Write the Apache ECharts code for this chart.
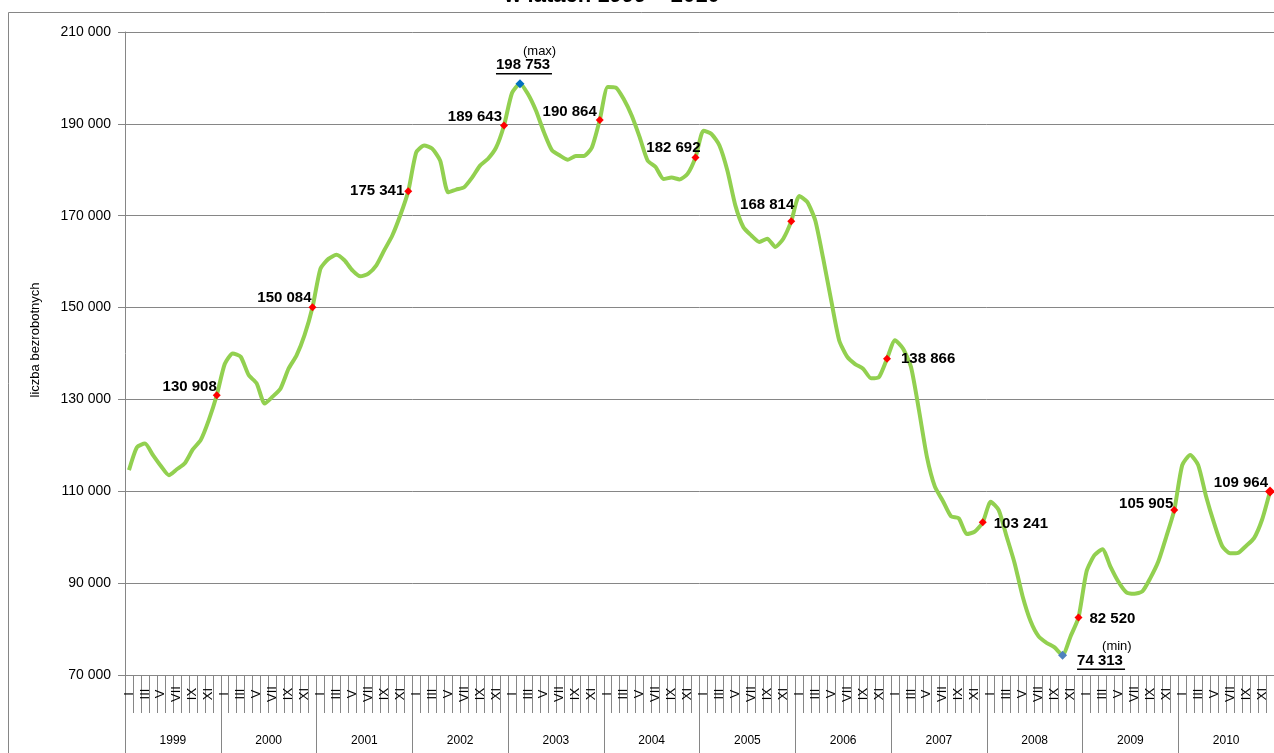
<!DOCTYPE html>
<html>
<head>
<meta charset="utf-8">
<script src="https://cdn.jsdelivr.net/npm/echarts@6/dist/echarts.min.js"></script>
<style>
  html, body { margin: 0; padding: 0; background: #fff; }
  #chart { width: 1274px; height: 753px; }
</style>
</head>
<body>
<div id="chart"></div>
<script>
// lata i miesiace na osi X
var years = ['1999', '2000', '2001', '2002', '2003', '2004', '2005', '2006', '2007', '2008', '2009', '2010'];
var monthNames = ['I', 'II', 'III', 'IV', 'V', 'VI', 'VII', 'VIII', 'IX', 'X', 'XI', 'XII'];

// liczba bezrobotnych, stan na koniec miesiaca
var y1999 = [114600, 119600, 120400, 117900, 115500, 113500, 114800, 116100, 119100, 121200, 125500, 130908];
var y2000 = [137700, 140000, 139300, 135300, 133500, 129100, 130600, 132400, 136700, 139600, 144000, 150084];
var y2001 = [158500, 160600, 161500, 160300, 158100, 156800, 157400, 159200, 162500, 165700, 170100, 175341];
var y2002 = [183800, 185300, 184600, 182000, 175100, 175700, 176200, 178300, 180900, 182400, 184800, 189643];
var y2003 = [196700, 198753, 196500, 192900, 188200, 184300, 183100, 182200, 183000, 183000, 184800, 190864];
var y2004 = [198000, 197900, 195400, 191800, 187100, 182000, 180600, 178000, 178300, 177900, 179100, 182692];
var y2005 = [188500, 187800, 185300, 179800, 172200, 167500, 165700, 164300, 165000, 163200, 165000, 168814];
var y2006 = [174300, 173000, 169000, 160700, 151600, 142900, 139300, 137700, 136700, 134600, 134900, 138866];
var y2007 = [142900, 141100, 137100, 127700, 117500, 111000, 107900, 104600, 104100, 100700, 101200, 103241];
var y2008 = [107700, 105900, 100100, 94300, 87100, 81700, 78400, 77000, 76000, 74313, 78400, 82520];
var y2009 = [92500, 96100, 97400, 93600, 90300, 88000, 87700, 88200, 91100, 94700, 100100, 105905];
var y2010 = [115700, 117900, 115700, 108800, 103000, 98100, 96500, 96600, 98100, 99800, 103800, 109964];

// os Y
var yMin = 70000;
var yMax = 210000;
var yStep = 20000;

var values = [].concat(y1999, y2000, y2001, y2002, y2003, y2004, y2005, y2006, y2007, y2008, y2009, y2010);
var months = [];
years.forEach(function () { months = months.concat(monthNames); });

var maxIdx = values.indexOf(Math.max.apply(null, values));
var minIdx = values.indexOf(Math.min.apply(null, values));

function fmt(v) {
  return String(Math.round(v)).replace(/\B(?=(\d{3})+(?!\d))/g, ' ');
}

// polozenie etykiet grudniowych: [strona, dx, dy]
var decLabelPos = [
  ['left', 4, -8], ['left', 3, -9], ['left', 0, 0], ['left', 2, -9],
  ['left', 1, -8], ['left', 9, -10], ['left', 7, -16], ['right', 10, 0],
  ['right', 7, 2], ['right', 7, 1], ['left', 3, -6], ['left', 3, -9]
];

var seriesData = values.map(function (v, i) {
  var item = { value: v };
  if (i === maxIdx) {
    item.symbol = 'diamond';
    item.symbolSize = 9;
    item.itemStyle = { color: '#0070C0' };
    item.label = {
      show: true, position: 'top', distance: 4, offset: [-24, 0], align: 'left',
      formatter: '{m|(max)}\n{v|' + fmt(v) + '}\n{u| }',
      rich: {
        m: { fontSize: 13, color: '#000', lineHeight: 14, padding: [0, 0, 0, 27] },
        v: { fontSize: 15, fontWeight: 'bold', color: '#000', lineHeight: 14 },
        u: { fontSize: 1, lineHeight: 3, height: 1.5, width: 56, backgroundColor: '#000' }
      }
    };
  } else if (i === minIdx) {
    item.symbol = 'diamond';
    item.symbolSize = 9;
    item.itemStyle = { color: '#4F81BD' };
    item.label = {
      show: true, position: 'right', distance: 10, align: 'left',
      formatter: '{m|(min)}\n{v|' + fmt(v) + '}\n{u| }',
      rich: {
        m: { fontSize: 13, color: '#000', lineHeight: 14, padding: [0, 0, 0, 25] },
        v: { fontSize: 15, fontWeight: 'bold', color: '#000', lineHeight: 14 },
        u: { fontSize: 1, lineHeight: 3, height: 1.5, width: 48, backgroundColor: '#000' }
      }
    };
  } else if (i % 12 === 11) {
    var p = decLabelPos[Math.floor(i / 12)];
    item.symbol = 'diamond';
    item.symbolSize = i === values.length - 1 ? 10 : 8;
    item.itemStyle = { color: '#FF0000' };
    item.label = {
      show: true, position: p[0], distance: 0, offset: [p[1], p[2]],
      formatter: fmt(v), fontSize: 15, fontWeight: 'bold', color: '#000'
    };
  }
  return item;
});

var chart = echarts.init(document.getElementById('chart'), null, { renderer: 'canvas' });

chart.setOption({
  animation: false,
  backgroundColor: '#fff',
  textStyle: { fontFamily: 'Liberation Sans, Arial, sans-serif' },
  grid: { left: 125, right: 0, top: 32, bottom: 78, containLabel: false, outerBoundsMode: 'none' },
  graphic: [
    {
      type: 'rect', silent: true, z: -10,
      shape: { x: 8.5, y: 12.5, width: 1400, height: 900 },
      style: { fill: 'none', stroke: '#868686', lineWidth: 1 }
    },
    {
      type: 'text', silent: true, x: 612, y: -4,
      style: {
        text: 'w latach 1999 – 2010', align: 'center', verticalAlign: 'middle',
        font: 'bold 22px "Liberation Sans", Arial, sans-serif', fill: '#000'
      }
    },
    {
      type: 'text', silent: true, x: 35, y: 340, rotation: Math.PI / 2,
      style: {
        text: 'liczba bezrobotnych', align: 'center', verticalAlign: 'middle',
        font: '13px "Liberation Sans", Arial, sans-serif', fill: '#000'
      }
    }
  ],
  xAxis: [
    {
      type: 'category',
      data: months,
      boundaryGap: true,
      axisLine: { show: true, lineStyle: { color: '#868686', width: 1 } },
      axisTick: { show: true, interval: 0, length: 38, lineStyle: { color: '#868686', width: 1 } },
      axisLabel: {
        interval: 1, rotate: 90, align: 'center', verticalAlign: 'middle',
        margin: 19, fontSize: 13, color: '#000'
      },
      splitLine: { show: false }
    },
    {
      type: 'category',
      data: years,
      position: 'bottom',
      offset: 38,
      boundaryGap: true,
      axisLine: { show: false },
      axisTick: { show: true, interval: 0, length: 40, lineStyle: { color: '#868686', width: 1 } },
      axisLabel: { interval: 0, margin: 22, fontSize: 12, color: '#000' },
      splitLine: { show: false }
    }
  ],
  yAxis: {
    type: 'value',
    min: yMin,
    max: yMax,
    interval: yStep,
    axisLine: { show: true, lineStyle: { color: '#868686', width: 1 } },
    axisTick: { show: true, length: 7, lineStyle: { color: '#868686' } },
    axisLabel: { margin: 14, fontSize: 14, color: '#000', formatter: fmt },
    splitLine: { show: true, lineStyle: { color: '#868686', width: 1 } }
  },
  series: [
    {
      type: 'line',
      xAxisIndex: 0,
      yAxisIndex: 0,
      data: seriesData,
      symbol: 'none',
      showSymbol: true,
      showAllSymbol: true,
      smooth: 0.2,
      silent: true,
      lineStyle: { color: '#92D050', width: 4 },
      itemStyle: { color: '#92D050' },
      label: { show: false },
      emphasis: { disabled: true },
      z: 3
    }
  ]
});
</script>
</body>
</html>
